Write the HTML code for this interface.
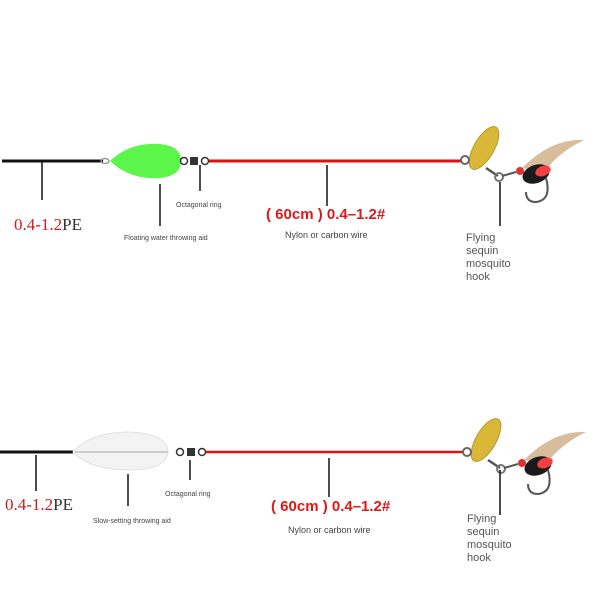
<!DOCTYPE html>
<html><head><meta charset="utf-8"><style>
html,body{margin:0;padding:0;background:#fff;width:600px;height:600px;overflow:hidden}
text{font-family:"Liberation Sans",sans-serif}
</style></head><body>
<svg width="600" height="600" viewBox="0 0 600 600" xmlns="http://www.w3.org/2000/svg">
<defs>
<g id="lure">
  <path d="M58 8 q30 -30 62 -28 q-25 12 -40 32 z" fill="#c9a77a" opacity="0.75"/>
  <ellipse cx="20" cy="-12" rx="10" ry="24" transform="rotate(30 20 -12)" fill="#d9b838" stroke="#b8962a"/>
  <circle cx="1" cy="0" r="4" fill="none" stroke="#666" stroke-width="2"/>
  <line x1="22" y1="8" x2="34" y2="16" stroke="#555" stroke-width="2.5"/>
  <circle cx="35" cy="17" r="4" fill="none" stroke="#777" stroke-width="2"/>
  <line x1="38" y1="16" x2="52" y2="12" stroke="#555" stroke-width="2"/>
  <circle cx="56" cy="11" r="4" fill="#e03030"/>
  <ellipse cx="72" cy="14" rx="14" ry="9" transform="rotate(-20 72 14)" fill="#1a1a1a"/>
  <ellipse cx="79" cy="11" rx="8" ry="5" transform="rotate(-20 79 11)" fill="#f04040"/>
  <path d="M82 18 q6 22 -10 24 q-10 0 -10 -10" fill="none" stroke="#555" stroke-width="2"/>
</g>
</defs>
<!-- TOP -->
<line x1="2" y1="161" x2="103" y2="161" stroke="#111" stroke-width="3"/>
<ellipse cx="105" cy="161" rx="4" ry="2.5" fill="none" stroke="#999" stroke-width="1.5"/>
<path d="M110 161 Q130 142 160 144 Q181 146 181 161 Q181 176 160 178 Q130 180 110 161 Z" fill="#5cf54a"/>
<circle cx="184" cy="161" r="3.5" fill="none" stroke="#333" stroke-width="1.5"/>
<rect x="190" y="157" width="8" height="8" fill="#333"/>
<circle cx="205" cy="161" r="3.5" fill="none" stroke="#333" stroke-width="1.5"/>
<line x1="209" y1="161" x2="462" y2="161" stroke="#e01010" stroke-width="3"/>
<use href="#lure" x="464" y="160"/>
<g stroke="#111" stroke-width="1.5">
<line x1="42" y1="162" x2="42" y2="200"/>
<line x1="160" y1="184" x2="160" y2="226"/>
<line x1="200" y1="165" x2="200" y2="191"/>
<line x1="327" y1="165" x2="327" y2="206"/>
<line x1="500" y1="182" x2="500" y2="226"/>
</g>
<text x="14" y="230" font-size="17" fill="#c82020" style="font-family:'Liberation Serif',serif">0.4-1.2<tspan fill="#333">PE</tspan></text>
<text x="124" y="240" font-size="7" fill="#444">Floating water throwing aid</text>
<text x="176" y="207" font-size="7" fill="#444">Octagonal ring</text>
<text x="266" y="219" font-size="15" font-weight="bold" fill="#e01818">( 60cm ) 0.4–1.2#</text>
<text x="285" y="238" font-size="9" fill="#444">Nylon or carbon wire</text>
<g font-size="11" fill="#555"><text x="466" y="241">Flying</text><text x="466" y="254">sequin</text><text x="466" y="267">mosquito</text><text x="466" y="280">hook</text></g>
<!-- BOTTOM -->
<line x1="0" y1="452" x2="73" y2="452" stroke="#111" stroke-width="3"/>
<path d="M73 452 Q90 432 130 432 Q168 434 168 452 Q166 470 130 470 Q90 470 73 452 Z" fill="#f3f3f3" stroke="#e2e2e2"/>
<line x1="75" y1="452" x2="168" y2="452" stroke="#aaa" stroke-width="1"/>
<circle cx="180" cy="452" r="3.5" fill="none" stroke="#333" stroke-width="1.5"/>
<rect x="187" y="448" width="8" height="8" fill="#333"/>
<circle cx="202" cy="452" r="3.5" fill="none" stroke="#333" stroke-width="1.5"/>
<line x1="206" y1="452" x2="464" y2="452" stroke="#e01010" stroke-width="2.5"/>
<use href="#lure" x="466" y="452"/>
<g stroke="#111" stroke-width="1.5">
<line x1="36" y1="455" x2="36" y2="491"/>
<line x1="128" y1="474" x2="128" y2="506"/>
<line x1="190" y1="460" x2="190" y2="480"/>
<line x1="329" y1="458" x2="329" y2="497"/>
<line x1="500" y1="470" x2="500" y2="515"/>
</g>
<text x="5" y="510" font-size="17" fill="#c82020" style="font-family:'Liberation Serif',serif">0.4-1.2<tspan fill="#333">PE</tspan></text>
<text x="93" y="523" font-size="7" fill="#444">Slow-setting throwing aid</text>
<text x="165" y="496" font-size="7" fill="#444">Octagonal ring</text>
<text x="271" y="511" font-size="15" font-weight="bold" fill="#e01818">( 60cm ) 0.4–1.2#</text>
<text x="288" y="533" font-size="9" fill="#444">Nylon or carbon wire</text>
<g font-size="11" fill="#555"><text x="467" y="522">Flying</text><text x="467" y="535">sequin</text><text x="467" y="548">mosquito</text><text x="467" y="561">hook</text></g>
</svg>
</body></html>
